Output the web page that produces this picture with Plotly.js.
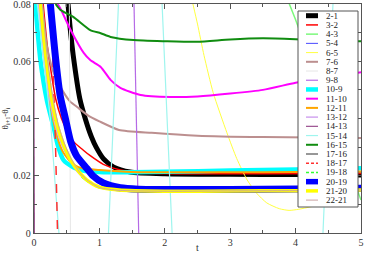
<!DOCTYPE html>
<html><head><meta charset="utf-8">
<script src="https://cdn.plot.ly/plotly-3.0.1.min.js"></script>
<style>html,body{margin:0;padding:0;background:#fff}#c{width:365px;height:253px}</style>
</head><body><div id="c"></div>
<script>
// ---- data ----
const names = ["2-1","3-2","4-3","5-4","6-5","7-6","8-7","9-8","10-9","11-10","12-11","13-12","14-13","15-14","16-15","17-16","18-17","19-18","20-19","21-20","22-21"];

const t_2_1 = [0.52,0.56,0.6,0.7,0.79,0.88,0.95,1.06,1.22,1.47,2,3,4,5];
const y_2_1 = [0.08,0.07,0.062,0.047,0.0395,0.0335,0.03,0.026,0.023,0.0213,0.0207,0.0205,0.0204,0.0203];

const t_3_2 = [0.14,0.2,0.25,0.33,0.42,0.5,0.6,0.75,0.86,1.06,1.32,1.7,2.5,3.5,5];
const y_3_2 = [0.08,0.066,0.058,0.047,0.040,0.036,0.032,0.029,0.027,0.024,0.022,0.021,0.0207,0.0207,0.0208];

const t_4_3 = [3.87,4.0,4.2,4.4,4.6,4.8,4.95,5.0];
const y_4_3 = [0.082,0.0745,0.062,0.049,0.036,0.024,0.0145,0.0115];

const t_5_4 = [0.11,0.18,0.27,0.36,0.46,0.57,0.7,0.82,1.0,1.3,2,3,4,5];
const y_5_4 = [0.08,0.062,0.047,0.037,0.030,0.025,0.0205,0.018,0.0158,0.0147,0.0143,0.0144,0.0145,0.0147];

const t_6_5 = [2.43,2.5,2.6,2.74,2.95,3.1,3.26,3.4,3.56,3.75,3.9,4.05,4.3];
const y_6_5 = [0.08,0.073,0.062,0.049,0.035,0.026,0.0185,0.014,0.0105,0.0085,0.0079,0.0083,0.0095];

const t_7_6 = [0.12,0.2,0.3,0.43,0.55,0.66,0.83,1.0,1.3,1.8,2.5,3.5,5];
const y_7_6 = [0.08,0.065,0.056,0.05,0.046,0.044,0.041,0.039,0.036,0.035,0.034,0.0335,0.0332];

const t_8_7 = [0.538,0.54,0.557,0.559];
const y_8_7 = [0.09,0.08,0.0,-0.01];

const t_9_8 = [1.52,1.53,1.60,1.61];
const y_9_8 = [0.09,0.08,0.0,-0.01];

const t_10_9 = [0.02,0.1,0.2,0.3,0.36,0.45,0.6,0.75,1.0,1.5,2,3,4,5];
const y_10_9 = [0.08,0.06,0.046,0.037,0.031,0.0255,0.023,0.0218,0.0213,0.0212,0.0214,0.0218,0.0222,0.0226];

const t_11_10 = [0.36,0.4,0.56,0.76,0.86,1.02,1.17,1.32,1.63,2.08,2.5,3,3.5,4,4.5,5];
const y_11_10 = [0.08,0.0786,0.0709,0.0629,0.0604,0.058,0.0535,0.0507,0.0482,0.0475,0.0477,0.0487,0.050,0.0525,0.0545,0.0562];

const t_12_11 = [0.08,0.15,0.25,0.35,0.45,0.6,0.75,1.0,1.5,2,3,4,5];
const y_12_11 = [0.08,0.062,0.045,0.034,0.028,0.024,0.0225,0.022,0.0213,0.0212,0.0212,0.0213,0.0215];

const t_13_12 = [0.07,0.14,0.23,0.32,0.42,0.53,0.66,0.8,1.0,1.3,2,3,4,5];
const y_13_12 = [0.08,0.063,0.048,0.038,0.031,0.026,0.0215,0.0185,0.0163,0.0152,0.0148,0.0149,0.015,0.0152];

const t_14_13 = [0.006,0.006,-0.003];
const y_14_13 = [0.0,0.042,0.06];

const t_15_14 = [0.05,0.15,0.25,0.33,0.38,0.45,1.1,1.14,1.29,1.33,1.92,1.96,2.11,2.15,4.38,4.42,4.57,4.61,5];
const y_15_14 = [0.08,0.06,0.04,0.015,0.0,-0.02,-0.02,0.0,0.08,0.1,0.1,0.08,0.0,-0.02,-0.02,0.0,0.08,0.1,0.1];

const t_16_15 = [0.33,0.4,0.6,0.86,1.02,1.17,1.52,2.0,2.5,3.0,3.5,4.0,4.5,5];
const y_16_15 = [0.08,0.078,0.0755,0.0709,0.0698,0.0685,0.0674,0.067,0.0668,0.0676,0.068,0.0677,0.0672,0.067];

const t_17_16 = [0.52,0.56,0.6,0.7,0.79,0.88,0.95,1.06,1.22,1.47,2,3,4,5];
const y_17_16 = [0.08,0.07,0.062,0.047,0.0395,0.0335,0.03,0.026,0.023,0.0213,0.0206,0.0203,0.0202,0.0201];

const t_18_17 = [0.26,0.29,0.33,0.36,0.37];
const y_18_17 = [0.08,0.06,0.03,0.0,-0.01];

const t_19_18 = [0.12,0.2,0.29,0.38,0.48,0.6,0.72,0.85,1.0,1.3,2,3,4,5];
const y_19_18 = [0.08,0.061,0.046,0.036,0.029,0.024,0.0198,0.0175,0.0158,0.0149,0.0146,0.0147,0.0148,0.015];

const t_20_19 = [0.25,0.33,0.40,0.48,0.56,0.65,0.81,0.9,1.06,1.32,1.6,2,3,4,5];
const y_20_19 = [0.08,0.061,0.048,0.040,0.032,0.027,0.0225,0.020,0.0175,0.0158,0.0153,0.0152,0.0152,0.0154,0.0156];

const t_21_20 = [0.1,0.18,0.27,0.35,0.45,0.56,0.7,0.81,1.0,1.3,2,3,4,5];
const y_21_20 = [0.08,0.062,0.047,0.038,0.031,0.0255,0.021,0.0185,0.016,0.015,0.0146,0.0147,0.0148,0.015];

const t_22_21 = [0.13,0.2,0.29,0.37,0.47,0.58,0.71,0.82,1.0,1.3,2,3,4,5];
const y_22_21 = [0.08,0.062,0.047,0.038,0.031,0.0255,0.0208,0.0183,0.0159,0.0149,0.0146,0.0147,0.0148,0.015];

const xs = [t_2_1,t_3_2,t_4_3,t_5_4,t_6_5,t_7_6,t_8_7,t_9_8,t_10_9,t_11_10,t_12_11,t_13_12,t_14_13,t_15_14,t_16_15,t_17_16,t_18_17,t_19_18,t_20_19,t_21_20,t_22_21];
const ys = [y_2_1,y_3_2,y_4_3,y_5_4,y_6_5,y_7_6,y_8_7,y_9_8,y_10_9,y_11_10,y_12_11,y_13_12,y_14_13,y_15_14,y_16_15,y_17_16,y_18_17,y_19_18,y_20_19,y_21_20,y_22_21];

// ---- styles ----
const colors = ["#000000","#ff0000","#7cf97c","#4848ff","#ffff40","#bc8f8f","#e6e6e6","#b56ae6","#00ffff","#ff00ff","#ffa500","#d2a6f0","#9a4f8f","#9ff5ee","#108c10","#303030","#ff3030","#33ff33","#0000ff","#ffff00","#c9a2a2"];
const widths = [5,1.5,1.5,1,1,2,1,1.2,4.5,2,2,1.5,1.2,1.2,2,1,1.5,1.5,7,3.5,1];
const dashes = names.map(n => n==="18-17"||n==="19-18" ? "dash" : "solid");
const straight = ["8-7","9-8","14-13","15-14","18-17","4-3"];
// draw order: the thin dark 17-16 sits underneath the thick 2-1 band
const drawOrder = [15,0,1,2,3,4,5,6,7,8,9,10,11,12,13,14,16,17,18,19,20];

const traces = drawOrder.map(i=>({
  x: xs[i], y: ys[i], name: names[i], type:'scatter', mode:'lines',
  line:{color:colors[i], width:widths[i], dash:dashes[i],
        shape: straight.includes(names[i])?'linear':'spline', smoothing:0.6},
  hoverinfo:'skip', showlegend:false
}));

// ---- legend drawn as layout items (Plotly's legend rows cannot be this compact) ----
const L=34, R=361, T=4, B=233;
const px = v => (v-L)/(R-L);
const py = v => (B-v)/(B-T);
const serif = 'Liberation Serif, Times New Roman, serif';
const shapes = [{type:'rect',xref:'paper',yref:'paper',x0:px(298),x1:px(358),y0:py(207),y1:py(11),
  line:{color:'#555',width:1},fillcolor:'#fff',layer:'above'}];
const annotations = [];
names.forEach((n,i)=>{
  const yy = 15.7 + i*9.22;
  shapes.push({type:'line',xref:'paper',yref:'paper',x0:px(306),x1:px(318),y0:py(yy),y1:py(yy),
    line:{color:colors[i],width:Math.min(widths[i],5.5),dash:dashes[i]==='dash'?'3px,2px':'solid'},layer:'above'});
  annotations.push({xref:'paper',yref:'paper',x:px(324),y:py(yy),text:n,showarrow:false,
    xanchor:'left',yanchor:'middle',font:{family:serif,size:9,color:'#222'}});
});

const axisCommon = {
  showgrid:false, zeroline:false, showline:true, linecolor:'#555', linewidth:1.2,
  mirror:'allticks', ticks:'inside', ticklen:5, tickcolor:'#555', tickwidth:1,
  ticklabeloverflow:'allow',
  tickfont:{family:serif,size:10,color:'#333'}
};

const layout = {
  width:365, height:253,
  margin:{l:L, r:365-R, t:T, b:253-B},
  paper_bgcolor:'#fff', plot_bgcolor:'#fff',
  xaxis: Object.assign({}, axisCommon, {range:[0,5], dtick:1, tick0:0,
    minor:{ticks:'inside', ticklen:3, dtick:0.5, tickcolor:'#555'},
    title:{text:'t', font:{family:serif,size:10,color:'#333'}, standoff:5}}),
  yaxis: Object.assign({}, axisCommon, {range:[0,0.08], dtick:0.02, tick0:0,
    minor:{ticks:'inside', ticklen:3, dtick:0.01, tickcolor:'#555'},
    title:{text:'θ<sub>i+1</sub>-θ<sub>i</sub>', font:{family:serif,size:9,color:'#333'}, standoff:4}}),
  shapes: shapes, annotations: annotations, showlegend:false
};

Plotly.newPlot('c', traces, layout, {staticPlot:true, displayModeBar:false});
</script></body></html>
